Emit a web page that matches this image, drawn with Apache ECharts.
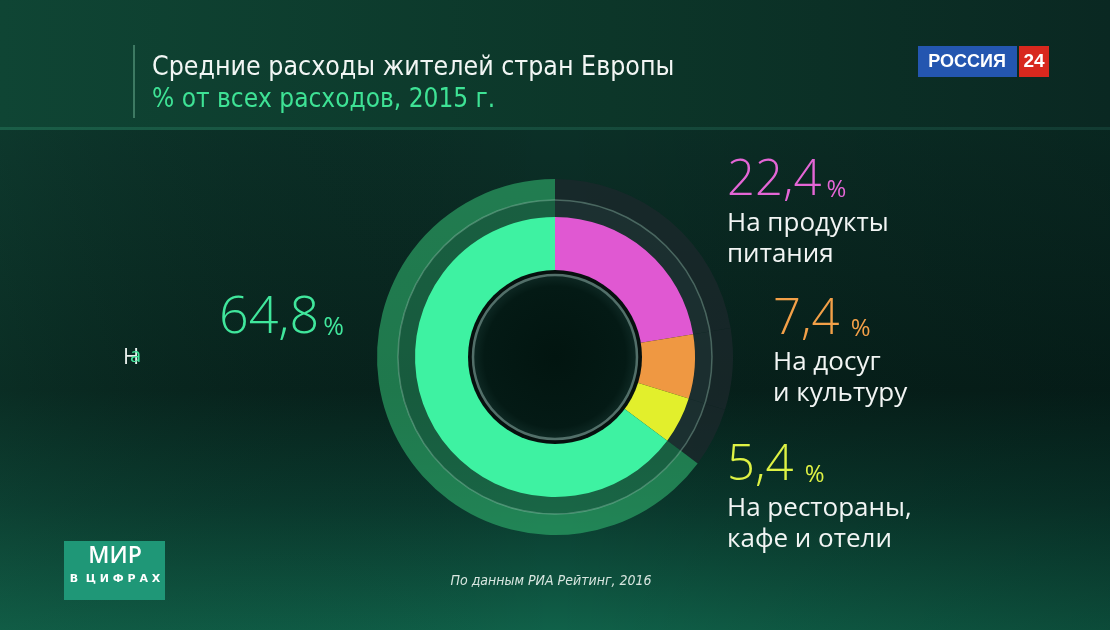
<!DOCTYPE html>
<html>
<head>
<meta charset="utf-8">
<script src="https://cdn.jsdelivr.net/npm/echarts@6/dist/echarts.min.js"></script>
<style>
  html, body { margin: 0; padding: 0; background: #082420; }
  #chart { width: 1110px; height: 630px; }
</style>
</head>
<body>
<div id="chart"></div>
<script>
// доли расходов, по часовой стрелке от 12 часов
const categories = ['На продукты\nпитания', 'На досуг\nи культуру', 'На рестораны,\nкафе и отели', 'На'];
const values = [22.4, 7.4, 5.4, 64.8];
const sliceColors = ['#e058d2', '#ef9842', '#e2ef2c', '#3ef2a2'];
const labelColors = ['#e466d6', '#f3a048', '#def244', '#40e69c'];

const titleText = 'Средние расходы жителей стран Европы';
const subtitleText = '% от всех расходов, 2015 г.';
const sourceText = 'По данным РИА Рейтинг, 2016';

let myChart = echarts.init(document.getElementById('chart'));

const cx = 555, cy = 357;
const numFont = '"Open Sans", "DejaVu Sans", sans-serif';
const condFont = '"Liberation Sans Narrow", "DejaVu Sans Condensed", sans-serif';

// позиции подписей (левый верхний угол блока)
const labelPos = [
    { x: 727, y: 154 },
    { x: 773, y: 293 },
    { x: 727, y: 439 },
    { x: 219, y: 289 },
];

function fmt(v) {
    return v.toFixed(1).replace('.', ',');
}

let option = {
    animation: false,
    graphic: [
        // фон
        {
            type: 'rect', z: -100, silent: true,
            shape: { x: 0, y: 0, width: 1110, height: 630 },
            style: {
                fill: new echarts.graphic.LinearGradient(0, 0, 0, 1, [
                    { offset: 0, color: '#0c3a2d' },
                    { offset: 0.25, color: '#0b2e26' },
                    { offset: 0.62, color: '#07221c' },
                    { offset: 0.8, color: '#0a3a2e' },
                    { offset: 1, color: '#106149' },
                ])
            }
        },
        {
            type: 'rect', z: -99, silent: true,
            shape: { x: 0, y: 128, width: 1110, height: 502 },
            style: {
                fill: new echarts.graphic.LinearGradient(0, 0, 1, 0, [
                    { offset: 0, color: 'rgba(20,80,60,0.25)' },
                    { offset: 0.5, color: 'rgba(0,0,0,0)' },
                    { offset: 1, color: 'rgba(0,10,10,0.25)' },
                ])
            }
        },
        {
            type: 'rect', z: -98, silent: true,
            shape: { x: 0, y: 0, width: 1110, height: 128 },
            style: {
                fill: new echarts.graphic.LinearGradient(0, 0, 1, 0, [
                    { offset: 0, color: '#0f4534' },
                    { offset: 0.55, color: '#0c3629' },
                    { offset: 1, color: '#0a2822' },
                ])
            }
        },
        {
            type: 'rect', z: -97, silent: true,
            shape: { x: 0, y: 127, width: 1110, height: 3 },
            style: {
                fill: new echarts.graphic.LinearGradient(0, 0, 1, 0, [
                    { offset: 0, color: '#1a5e47' },
                    { offset: 1, color: '#123b32' },
                ])
            }
        },
        // заголовок
        {
            type: 'rect', z: 10, silent: true,
            shape: { x: 133, y: 45, width: 2, height: 73 },
            style: { fill: 'rgba(120,190,160,0.45)' }
        },
        {
            type: 'text', z: 10, silent: true, x: 152, y: 68,
            style: { text: titleText, fill: '#f2f6f4', font: '26.5px ' + condFont, verticalAlign: 'middle' }
        },
        {
            type: 'text', z: 10, silent: true, x: 152, y: 100,
            style: { text: subtitleText, fill: '#3ee295', font: '26px ' + condFont, verticalAlign: 'middle' }
        },
        // логотип
        {
            type: 'rect', z: 10, silent: true,
            shape: { x: 918, y: 46, width: 99, height: 31 },
            style: { fill: '#2456b0' }
        },
        {
            type: 'text', z: 11, silent: true, x: 967, y: 62,
            style: {
                text: 'РОССИЯ', fill: '#ffffff', align: 'center', verticalAlign: 'middle',
                font: 'bold 18px "Liberation Sans", Arial, sans-serif'
            }
        },
        {
            type: 'rect', z: 10, silent: true,
            shape: { x: 1019, y: 46, width: 30, height: 31 },
            style: { fill: '#d8281e' }
        },
        {
            type: 'text', z: 11, silent: true, x: 1034, y: 62,
            style: {
                text: '24', fill: '#ffffff', align: 'center', verticalAlign: 'middle',
                font: 'bold 19px "Liberation Sans", Arial, sans-serif'
            }
        },
        // тонкое кольцо
        {
            type: 'circle', z: 20, silent: true,
            shape: { cx: cx, cy: cy, r: 157 },
            style: { fill: 'none', stroke: 'rgba(170,215,195,0.35)', lineWidth: 1.5 }
        },
        // центр
        {
            type: 'circle', z: 20, silent: true,
            shape: { cx: cx, cy: cy, r: 87 },
            style: { fill: '#06100e' }
        },
        {
            type: 'circle', z: 21, silent: true,
            shape: { cx: cx, cy: cy, r: 82 },
            style: {
                fill: new echarts.graphic.RadialGradient(0.5, 0.5, 0.5, [
                    { offset: 0, color: '#021510' },
                    { offset: 0.85, color: '#041a15' },
                    { offset: 1, color: '#0f2a25' },
                ]),
                stroke: '#526f69', lineWidth: 2.5
            }
        },
        // обрывок подписи слева
        {
            type: 'text', z: 10, silent: true, x: 123, y: 347,
            style: { text: categories[3].charAt(0), fill: '#e8efec', font: '22px ' + numFont }
        },
        {
            type: 'text', z: 11, silent: true, x: 130, y: 346,
            style: { text: categories[3].charAt(1), fill: '#45e59c', font: '20px ' + numFont }
        },
        // плашка
        {
            type: 'rect', z: 10, silent: true,
            shape: { x: 64, y: 541, width: 101, height: 59 },
            style: { fill: '#1f9777' }
        },
        {
            type: 'text', z: 11, silent: true, x: 115, y: 556,
            style: {
                text: 'МИР', fill: '#ffffff', align: 'center', verticalAlign: 'middle',
                font: '600 23px "Open Sans", sans-serif'
            }
        },
        {
            type: 'text', z: 11, silent: true, x: 115, y: 579,
            style: {
                text: 'В  Ц И Ф Р А Х', fill: '#ffffff', align: 'center', verticalAlign: 'middle',
                font: 'bold 11px "DejaVu Sans", sans-serif'
            }
        },
        {
            type: 'text', z: 11, silent: true, x: 551, y: 581,
            style: {
                text: sourceText, fill: '#d8e6e0', align: 'center', verticalAlign: 'middle',
                font: 'italic 14px ' + condFont
            }
        },
    ],
    series: [
        // внешняя полоса
        {
            type: 'pie', center: [cx, cy], radius: [157, 178], startAngle: 90, clockwise: true,
            silent: true, label: { show: false }, z: 1,
            data: values.map((v, i) => ({
                value: v, name: categories[i],
                itemStyle: { color: i === 3 ? 'rgba(48,178,110,0.6)' : 'rgba(28,40,44,0.75)' }
            }))
        },
        {
            type: 'pie', center: [cx, cy], radius: [139, 157], startAngle: 90, clockwise: true,
            silent: true, label: { show: false }, z: 1,
            data: values.map((v, i) => ({
                value: v, name: categories[i],
                itemStyle: { color: i === 3 ? 'rgba(35,130,85,0.6)' : 'rgba(32,50,52,0.8)' }
            }))
        },
        // основное кольцо
        {
            type: 'pie', center: [cx, cy], radius: [84, 140], startAngle: 90, clockwise: true,
            silent: true, z: 3, avoidLabelOverlap: false,
            data: values.map((v, i) => ({
                value: v, name: categories[i],
                itemStyle: { color: sliceColors[i] },
                label: { color: labelColors[i] }
            })),
            label: {
                show: true, position: 'outside',
                formatter: function (p) {
                    if (p.dataIndex === 3) {
                        return '{vb|' + fmt(p.value) + '}{pb|%}';
                    }
                    let s = '{v|' + fmt(p.value) + '}{p|' + (p.dataIndex === 0 ? '%' : ' %') + '}';
                    s += '\n' + p.name.split('\n').map(t => '{n|' + t + '}').join('\n');
                    return s;
                },
                rich: {
                    v: { fontFamily: numFont, fontSize: 49, lineHeight: 54, fontWeight: 300 },
                    p: { fontFamily: numFont, fontSize: 24, lineHeight: 54, verticalAlign: 'bottom', padding: [0, 0, 6, 5] },
                    vb: { fontFamily: numFont, fontSize: 52, lineHeight: 58, fontWeight: 300 },
                    pb: { fontFamily: numFont, fontSize: 25, lineHeight: 58, verticalAlign: 'bottom', padding: [0, 0, 7, 4] },
                    n: { fontFamily: numFont, fontSize: 26, lineHeight: 31, color: '#f2f5f4' }
                }
            },
            labelLine: { show: false },
            labelLayout: function (p) {
                let pos = labelPos[p.dataIndex];
                return { x: pos.x, y: pos.y, align: 'left', verticalAlign: 'top' };
            }
        }
    ]
};
myChart.setOption(option);
window.onresize = function () {
    myChart.resize();
};
</script>
</body>
</html>
